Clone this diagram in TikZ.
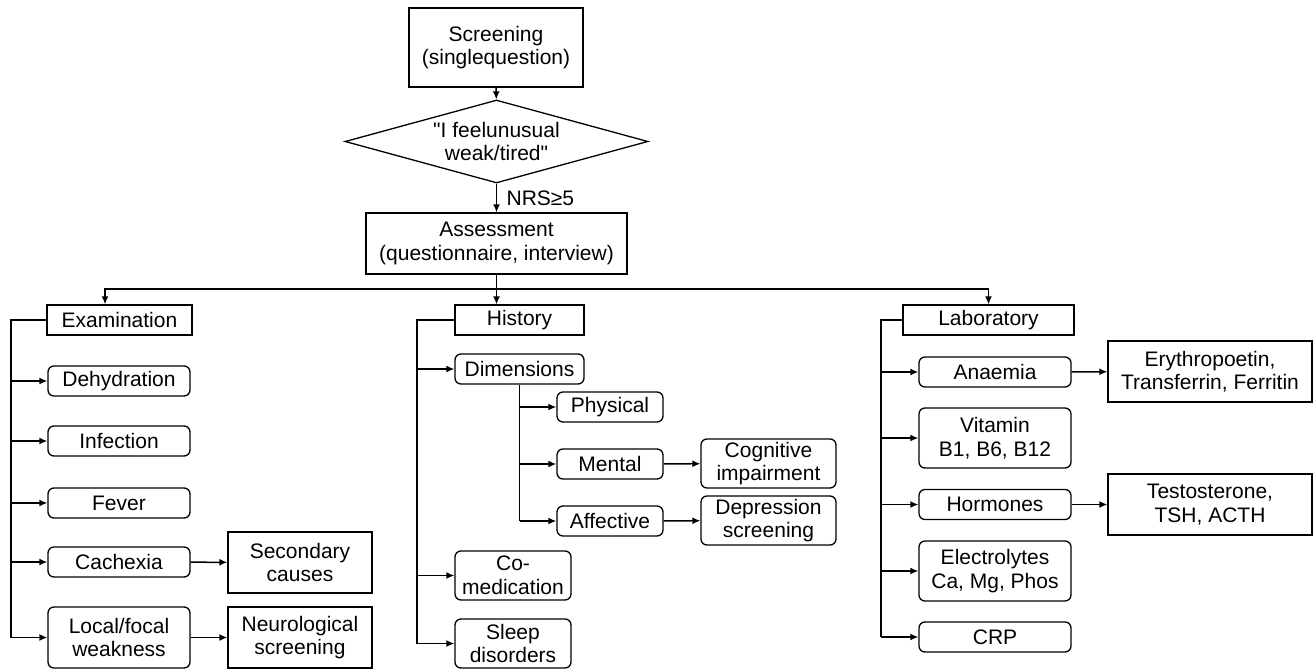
\documentclass[tikz,border=0pt]{standalone}
\usepackage{fontspec}
\setmainfont{Liberation Sans}
\usetikzlibrary{shapes.geometric,arrows.meta}

\begin{document}
\begin{tikzpicture}[x=1pt,y=-1pt,
  box/.style={draw, line width=1.3pt, inner sep=0pt, align=center,
    font=\fontsize{21}{23.5}\selectfont},
  rbox/.style={box, rounded corners=6pt},
  link/.style={line width=1.5pt, -{Latex[length=8pt,width=7pt]}},
  bus/.style={line width=1.5pt}]

\useasboundingbox (0,0) rectangle (1316,669);

% Screening e decisione
\node[box, minimum width=174, minimum height=79] (screen) at (496,47.5) {Screening\\(singlequestion)};
\node[box, diamond, shape aspect=3.65, minimum width=303, minimum height=83] (feel) at (496.5,141.5) {\textquotedbl I feelunusual\\weak/tired\textquotedbl};
\node[box, minimum width=261, minimum height=61] (assess) at (496.5,243.5) {Assessment\\(questionnaire, interview)};

\draw[link] (screen) -- (feel);
\draw[link] (feel) -- node[right=6pt, font=\fontsize{21}{23.5}\selectfont] {NRS≥5} (assess);

% Tre rami
\node[box, minimum width=145, minimum height=30] (exam) at (119.5,320) {Examination};
\node[box, minimum width=129, minimum height=30] (hist) at (519.5,320) {History};
\node[box, minimum width=171, minimum height=30] (lab) at (988.5,320) {Laboratory};

\coordinate (split) at (496.5,289);
\draw[link] (assess.south) -- (assess.south |- hist.north);
\draw[link] (split) -| ([xshift=-14.5]exam.north);
\draw[link] (split) -| (lab.north);

% Examination
\node[rbox, minimum width=142, minimum height=30] (dehyd) at (119,381) {Dehydration};
\node[rbox, minimum width=142, minimum height=30] (infect) at (119,441) {Infection};
\node[rbox, minimum width=142, minimum height=30] (fever) at (119,503) {Fever};
\node[rbox, minimum width=142, minimum height=30] (cachex) at (119,562) {Cachexia};
\node[rbox, minimum width=142, minimum height=61] (focal) at (119,637.5) {Local/focal\\weakness};
\node[box, minimum width=144, minimum height=61] (second) at (300,562.5) {Secondary\\causes};
\node[box, minimum width=144, minimum height=61] (neuro) at (300,637.5) {Neurological\\screening};

\coordinate (busE) at (11,0);
\draw[bus] (exam.west) -| (busE |- focal.west);
\draw[link] (busE |- dehyd.west) -- (dehyd.west);
\draw[link] (busE |- infect.west) -- (infect.west);
\draw[link] (busE |- fever.west) -- (fever.west);
\draw[link] (busE |- cachex.west) -- (cachex.west);
\draw[link] (busE |- focal.west) -- (focal.west);
\draw[link] (cachex) -- (second);
\draw[link] (focal) -- (neuro);

% History
\node[rbox, minimum width=129, minimum height=30] (dims) at (519.5,369) {Dimensions};
\node[rbox, minimum width=106, minimum height=30] (phys) at (610,407) {Physical};
\node[rbox, minimum width=106, minimum height=30] (mental) at (610,464) {Mental};
\node[rbox, minimum width=106, minimum height=30] (affect) at (610,521) {Affective};
\node[rbox, minimum width=135, minimum height=49] (cogn) at (768.5,463.5) {Cognitive\\impairment};
\node[rbox, minimum width=135, minimum height=49] (depr) at (768.5,520.5) {Depression\\screening};
\node[rbox, minimum width=116, minimum height=49] (comed) at (513,575.5) {Co-\\medication};
\node[rbox, minimum width=116, minimum height=49] (sleep) at (513,643.5) {Sleep\\disorders};

\coordinate (busH) at (417,0);
\draw[bus] (hist.west) -| (busH |- sleep.west);
\draw[link] (busH |- dims.west) -- (dims.west);
\draw[link] (busH |- comed.west) -- (comed.west);
\draw[link] (busH |- sleep.west) -- (sleep.west);

\draw[bus] (dims.south) -- (dims.south |- affect.west);
\draw[link] (dims.south |- phys.west) -- (phys.west);
\draw[link] (dims.south |- mental.west) -- (mental.west);
\draw[link] (dims.south |- affect.west) -- (affect.west);
\draw[link] (mental) -- (cogn);
\draw[link] (affect) -- (depr);

% Laboratory
\node[rbox, minimum width=152, minimum height=30] (anaem) at (995,372) {Anaemia};
\node[rbox, minimum width=152, minimum height=60] (vitam) at (995,438) {Vitamin\\B1, B6, B12};
\node[rbox, minimum width=152, minimum height=30] (hormo) at (995,504.5) {Hormones};
\node[rbox, minimum width=152, minimum height=60] (electro) at (995,571) {Electrolytes\\Ca, Mg, Phos};
\node[rbox, minimum width=152, minimum height=30] (crp) at (995,637) {CRP};
\node[box, minimum width=204, minimum height=61] (erythro) at (1210,371.5) {Erythropoetin,\\Transferrin, Ferritin};
\node[box, minimum width=204, minimum height=61] (testo) at (1210,504.5) {Testosterone,\\TSH, ACTH};

\coordinate (busL) at (881,0);
\draw[bus] (lab.west) -| (busL |- crp.west);
\draw[link] (busL |- anaem.west) -- (anaem.west);
\draw[link] (busL |- vitam.west) -- (vitam.west);
\draw[link] (busL |- hormo.west) -- (hormo.west);
\draw[link] (busL |- electro.west) -- (electro.west);
\draw[link] (busL |- crp.west) -- (crp.west);
\draw[link] (anaem) -- (erythro);
\draw[link] (hormo) -- (testo);

\end{tikzpicture}
\end{document}
